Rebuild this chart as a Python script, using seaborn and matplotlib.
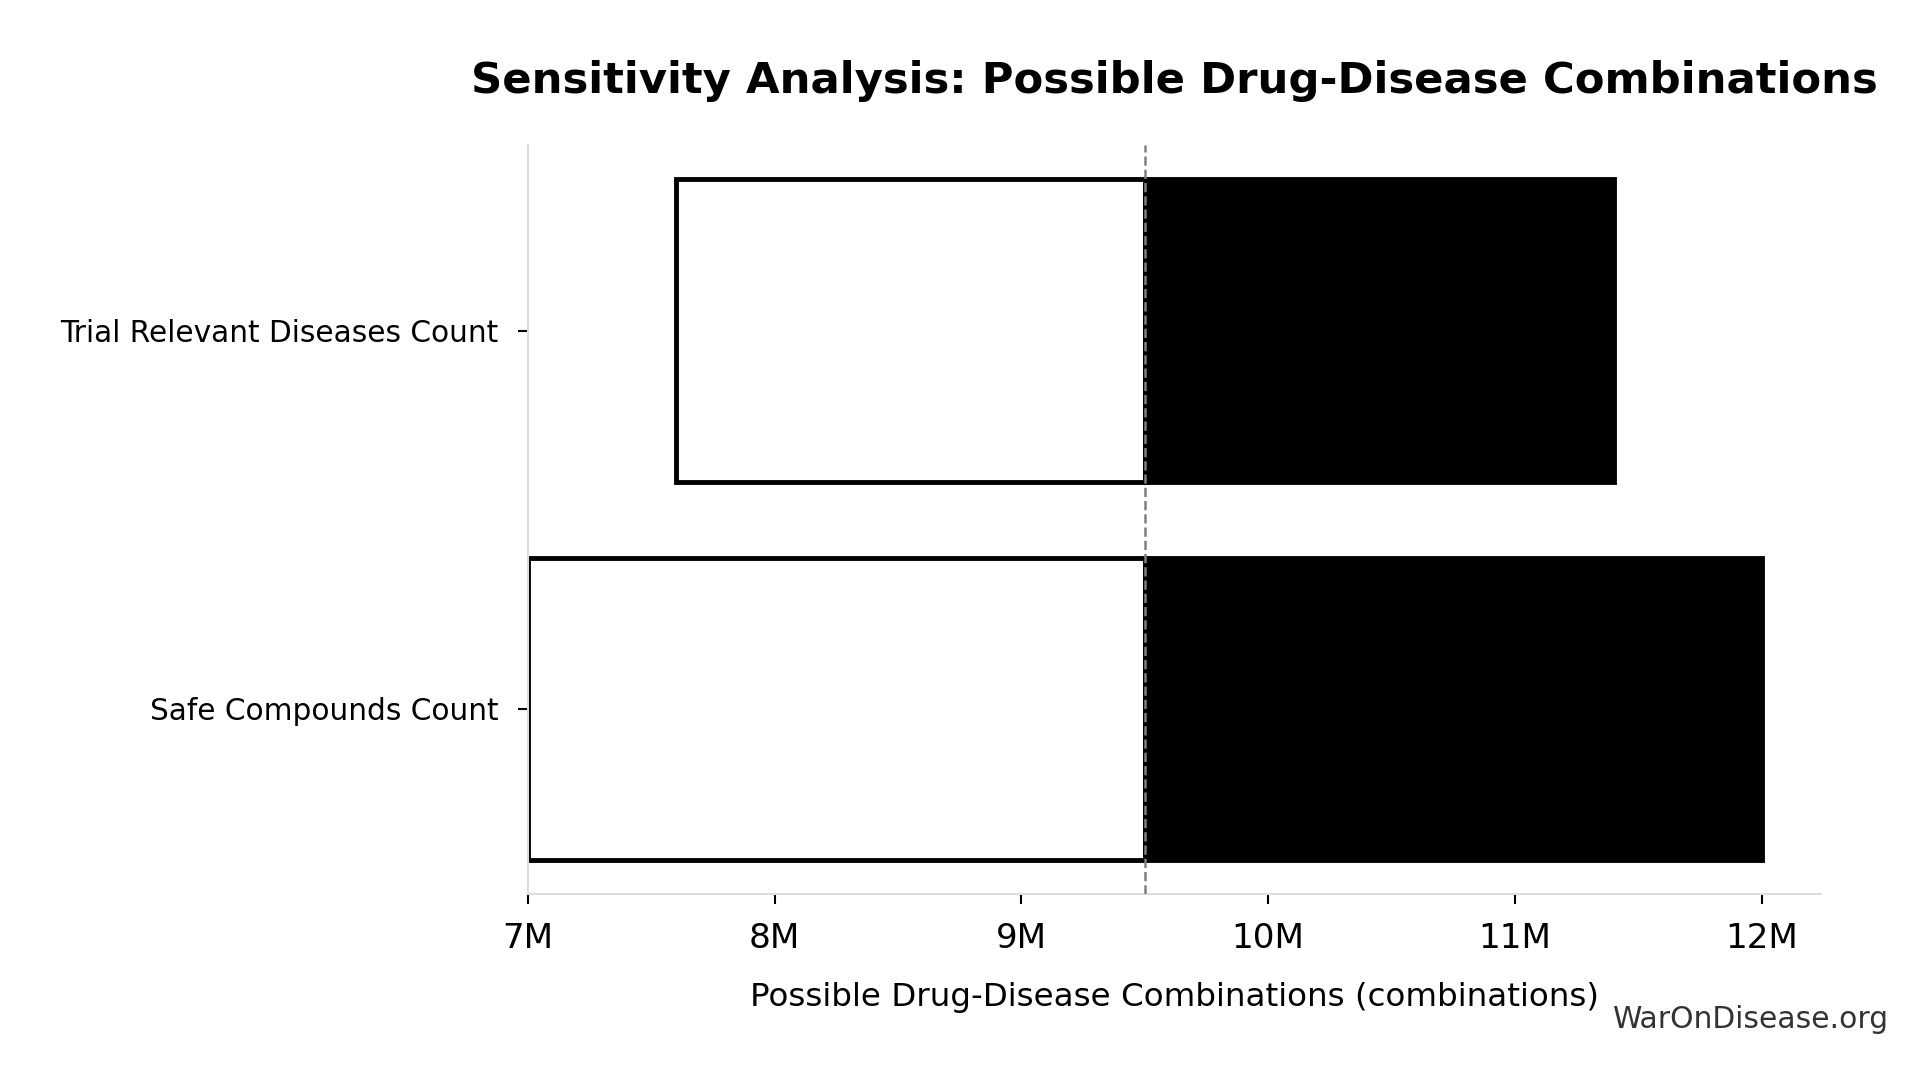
import numpy as np
import matplotlib
matplotlib.use("Agg")
import matplotlib.pyplot as plt
from matplotlib.ticker import FuncFormatter
import seaborn as sns

# 数据
params = ['Trial Relevant Diseases Count', 'Safe Compounds Count']
low_vals = [7.6e6, 7.0e6]
high_vals = [11.4e6, 12.0e6]
baseline = 9.5e6

sns.set_theme(style="ticks")
plt.rcParams['font.family'] = ['DejaVu Sans']
plt.rcParams['text.color'] = 'black'
plt.rcParams['axes.labelcolor'] = 'black'
plt.rcParams['xtick.color'] = 'black'
plt.rcParams['ytick.color'] = 'black'

fig = plt.figure(figsize=(19.19, 10.75), dpi=100)
ax = fig.add_axes([0.275, 0.168, 0.674, 0.697])

ypos = np.arange(len(params))
lows = np.array(low_vals)
highs = np.array(high_vals)

# 左边 (白色) 和 右边 (黑色)
ax.barh(ypos, lows - baseline, left=baseline, height=0.80,
        color='white', edgecolor='black', linewidth=3.5, zorder=2)
ax.barh(ypos, highs - baseline, left=baseline, height=0.80,
        color='black', edgecolor='black', linewidth=3.5, zorder=3)

ax.axvline(baseline, color='gray', linestyle='--', linewidth=1.8, zorder=4)

ax.set_yticks(ypos)
ax.set_yticklabels(params, fontsize=21.3)
ax.set_ylim(1.49, -0.49)
ax.set_xlim(7.0e6, 12.24e6)
ax.set_xticks([7e6, 8e6, 9e6, 10e6, 11e6, 12e6])
ax.xaxis.set_major_formatter(FuncFormatter(lambda v, p: f"{v/1e6:.0f}M"))
ax.tick_params(axis='x', labelsize=24.6, length=7, width=1.5, pad=13)
ax.tick_params(axis='y', length=7, width=1.5, pad=14)
ax.set_xlabel('Possible Drug-Disease Combinations (combinations)', fontsize=23.4, labelpad=19)

sns.despine(ax=ax)
for s in ['left', 'bottom']:
    ax.spines[s].set_color('#dddddd')
    ax.spines[s].set_linewidth(1.5)

fig.text(0.612, 0.925, 'Sensitivity Analysis: Possible Drug-Disease Combinations',
         fontsize=31.2, fontweight='bold', ha='center', va='center')

fig.text(0.984, 0.052, 'WarOnDisease.org', fontsize=21.4, color='#333333',
         ha='right', va='center')

fig.savefig('out.png', dpi=100)
